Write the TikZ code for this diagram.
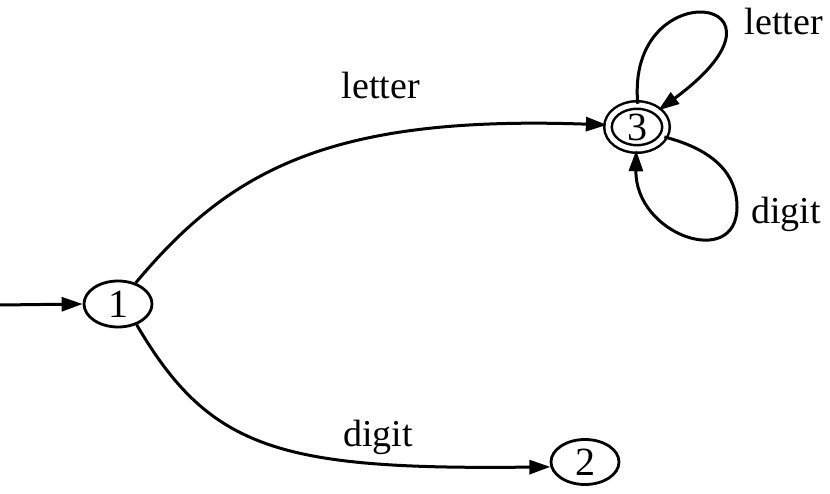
\documentclass[tikz,border=0pt]{standalone}
\usepackage{fontspec}
\setmainfont{Liberation Serif}
\usetikzlibrary{arrows.meta,shapes.geometric}
\begin{document}
\begin{tikzpicture}[x=1pt,y=-1pt,
  every node/.style={font=\fontsize{38}{40}\selectfont},
  state/.style={ellipse,draw,line width=2.8pt,inner sep=0pt,font=\fontsize{40}{42}\selectfont},
  edge/.style={line width=3pt,-{Triangle[length=21pt,width=14pt]}},
  lbl/.style={inner sep=0pt}]
\useasboundingbox (0,0) rectangle (830,494);
\node[state,minimum width=68pt,minimum height=46pt] (n1) at (118,304) {1};
\node[state,minimum width=68pt,minimum height=45pt] (n2) at (585,462) {2};
\node[state,double,double distance=5pt,line width=2.5pt,minimum width=58pt,minimum height=44pt] (n3) at (637,127) {3};
\coordinate (s) at (0,305);
\coordinate (dr) at (737,207);
\draw[edge] (s) -- (n1.west);
\draw[edge] (n1.50) .. controls (230,170) and (330,115) .. (n3.176);
\draw[edge] (n1.-48) .. controls (210,450) and (280,470) .. (n2.188);
\draw[edge] (n3.88) .. controls (625,-30) and (815,-5) .. (n3.38);
\draw[edge] (n3.-20) .. controls (715,150) and (737,175) .. (dr)
  .. controls (737,270) and (635,235) .. (n3.-92);
\node[lbl] (l13) at (381,86) {letter};
\node[lbl] (l12) at (378,437) {digit};
\node[lbl] (l33a) at (784,22) {letter};
\node[lbl] (l33b) at (786,214) {digit};
\end{tikzpicture}
\end{document}
